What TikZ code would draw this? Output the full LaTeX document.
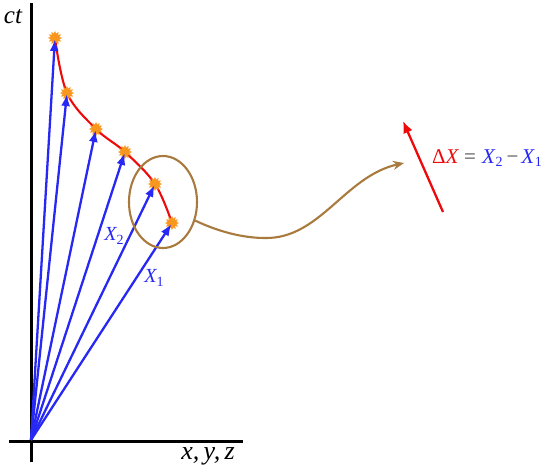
\documentclass[tikz,border=0pt]{standalone}
\usepackage{fontspec}
\setmainfont{Liberation Serif}
\usetikzlibrary{arrows.meta,shapes.geometric}
\definecolor{vecblue}{RGB}{40,40,245}
\definecolor{burst}{RGB}{248,150,30}
\definecolor{loopbrown}{RGB}{168,122,62}
\definecolor{wred}{RGB}{238,10,10}
\definecolor{opgray}{RGB}{70,70,70}
\newcommand{\sub}[1]{\raisebox{-0.35ex}{\fontsize{14}{14}\selectfont #1}}
\tikzset{
  axis/.style={line width=3pt, black},
  vec/.style={line width=2.3pt, vecblue, -{Latex[length=12pt,width=9pt]}, shorten >=1pt},
  burstnode/.style={star, star points=12, star point ratio=1.6, fill=burst, draw=burst, line width=0.4pt, minimum size=13pt, inner sep=0pt},
  lbl/.style={inner sep=0pt, font=\fontsize{20}{20}\selectfont\itshape},
}
\begin{document}
\begin{tikzpicture}[x=1pt,y=-1pt]
\useasboundingbox (0,0) rectangle (550,469);
% axes
\coordinate (vt) at (31,3);
\coordinate (vb) at (31,462);
\coordinate (hl) at (9,441);
\coordinate (hr) at (243,441);
\draw[axis] (vt) -- (vb);
\draw[axis] (hl) -- (hr);
\node[lbl, font=\fontsize{25}{25}\selectfont\itshape, anchor=center] (ct) at (13,17) {ct};
\node[lbl, font=\fontsize{26}{26}\selectfont\itshape, anchor=center] (xyz) at (208,456) {x,\,y,\,z};
% world line
\draw[wred, line width=2.1pt] plot[smooth, tension=0.6] coordinates {(55,38) (67,93) (96,129) (125,152) (155,184) (172,223)};
\node[burstnode] (s1) at (55,38) {};
\node[burstnode] (s2) at (67,93) {};
\node[burstnode] (s3) at (96,129) {};
\node[burstnode] (s4) at (125,152) {};
\node[burstnode] (s5) at (155,184) {};
\node[burstnode] (s6) at (172,223) {};
% vectors
\coordinate (O) at (31,440);
\foreach \s in {s1,s2,s3,s4,s5,s6} \draw[vec] (O) -- (\s.center);
\node[lbl, text=vecblue] (x2) at (114,236) {X\sub{\upshape 2}};
\node[lbl, text=vecblue] (x1) at (154,278) {X\sub{\upshape 1}};
% zoom loop
\node[draw=loopbrown, line width=2.1pt, ellipse, minimum width=68pt, minimum height=92pt, inner sep=0pt] (ell) at (163,202) {};
\coordinate (bm) at (265,238);
\coordinate (be) at (404,163);
\draw[loopbrown, line width=2.1pt, -{Stealth[length=11pt,width=9pt]}] (ell.-30) .. controls (215,230) and (240,238) .. (bm) .. controls (320,239) and (345,176) .. (be);
% delta X
\coordinate (r1) at (443,212);
\coordinate (r2) at (403,121);
\draw[wred, line width=2.3pt, -{Latex[length=12pt,width=10pt]}] (r1) -- (r2);
\node[inner sep=0pt, font=\fontsize{21}{21}\selectfont, anchor=west] (dx) at (432,158) {\textcolor{wred}{Δ\textit{X}}\hspace{5pt}\textcolor{opgray}{=}\hspace{6pt}\textcolor{vecblue}{\textit{X}\sub{2}}\hspace{4pt}\textcolor{opgray}{−}\hspace{3pt}\textcolor{vecblue}{\textit{X}\sub{1}}};
\end{tikzpicture}
\end{document}
